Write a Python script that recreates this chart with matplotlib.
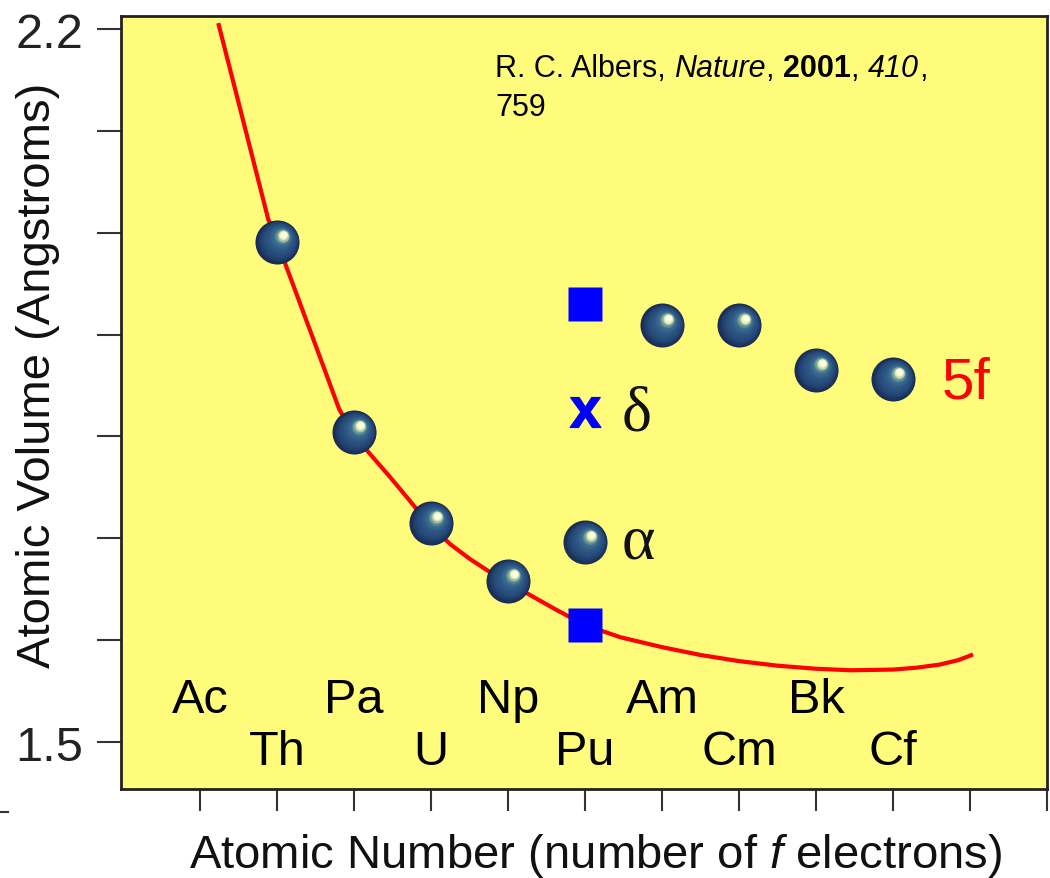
import numpy as np
import matplotlib
matplotlib.use("Agg")
import matplotlib.pyplot as plt
from matplotlib.colors import LinearSegmentedColormap
from matplotlib.transforms import offset_copy
from matplotlib.lines import Line2D

plt.rcParams['font.family'] = 'Liberation Sans'
plt.rcParams['mathtext.fontset'] = 'custom'
plt.rcParams['mathtext.rm'] = 'Liberation Sans'
plt.rcParams['mathtext.it'] = 'Liberation Sans:italic'
plt.rcParams['mathtext.bf'] = 'Liberation Sans:bold'

# element labels along the bottom (index = number of f electrons)
elements = ['Ac', 'Th', 'Pa', 'U', 'Np', 'Pu', 'Am', 'Cm', 'Bk', 'Cf']

# measured atomic volumes (spheres)
sphere_x = [1, 2, 3, 4, 5, 6, 7, 8, 9]
sphere_y = [1.991, 1.804, 1.715, 1.658, 1.696, 1.909, 1.909, 1.865, 1.856]

# Pu square markers and delta-phase x
square_x = [5, 5]
square_y = [1.930, 1.615]
delta_x = [5]
delta_y = [1.824]

# red 5f band curve
curve_x = [0.234, 0.519, 0.883, 1.013, 1.117, 1.455, 1.805, 1.974, 2.208,
           2.468, 2.727, 2.961, 3.247, 3.506, 3.766, 3.961, 4.286, 4.610,
           5.0, 5.455, 6.0, 6.5, 7.0, 7.5, 8.0, 8.45, 9.0, 9.3, 9.6, 9.85, 10.04]
curve_y = [2.2058, 2.1215, 2.0133, 1.9907, 1.967, 1.8984, 1.8268, 1.8042,
           1.7826, 1.760, 1.7365, 1.7149, 1.6943, 1.6796, 1.6668, 1.658,
           1.6443, 1.6305, 1.6148, 1.603, 1.5932, 1.5855, 1.5795, 1.5750,
           1.5720, 1.5705, 1.5712, 1.5730, 1.5760, 1.5805, 1.5860]

fig = plt.figure(figsize=(10.5, 8.79), dpi=100)
ax = fig.add_axes([0.1152, 0.1013, 0.9971 - 0.1152, 0.9807 - 0.1013])
ax.set_facecolor('#fffc7c')
ax.set_xlim(-1.03, 11.0)
ax.set_ylim(1.454, 2.2128)

ax.plot(curve_x, curve_y, color='#ff0000', lw=3.0, zorder=2,
        solid_capstyle='butt', solid_joinstyle='round')

# shaded spheres: stacked circles shifting toward the highlight
cmap = LinearSegmentedColormap.from_list('sph', [
    (0.0, '#182a52'), (0.25, '#244876'), (0.5, '#2d5784'),
    (0.7, '#3c6c8e'), (0.8, '#66969a'), (0.87, '#b4cca0'),
    (0.93, '#eef0bc'), (1.0, '#ffffe6')])
D = 31.7
n = 28
for k in range(n):
    t = k / (n - 1)
    ms = D * (1 - t) + 4.0 * t
    tr = offset_copy(ax.transData, fig=fig, x=6.5 * t, y=7.5 * t, units='dots')
    ax.plot(sphere_x, sphere_y, 'o', ms=ms, mfc=cmap(t), mec='none',
            transform=tr, zorder=4 + t)

ax.plot(square_x, square_y, 's', ms=24, mfc='#0000ff', mec='none', zorder=4)
ax.plot(delta_x, delta_y, ls='none', marker=r'$\mathbf{x}$', ms=22,
        mfc='#0000ff', mec='#0000ff', zorder=4)

ax.text(5.468, 1.807, 'δ', fontsize=46, family='Liberation Serif',
        color='#111111', va='baseline', ha='left')
ax.text(5.468, 1.6816, 'α', fontsize=46, family='Liberation Serif',
        color='#111111', va='baseline', ha='left')
ax.text(9.636, 1.8386, '5f', fontsize=42, color='#ff0000',
        va='baseline', ha='left')

for i, el in enumerate(elements):
    yy = 1.5294 if i % 2 == 0 else 1.4784
    ax.text(i, yy, el, fontsize=35, ha='center', va='baseline', color='#000000')

# citation, built from styled pieces
cite = [('R. C. Albers, ', 'normal', 'normal'), ('Nature', 'italic', 'normal'),
        (', ', 'normal', 'normal'), ('2001', 'normal', 'bold'),
        (', ', 'normal', 'normal'), ('410', 'italic', 'normal'),
        (',', 'normal', 'normal')]
prev = ax.text(0.404, 0.9224, cite[0][0], transform=ax.transAxes, fontsize=22,
               va='baseline', ha='left')
for s, st, wt in cite[1:]:
    prev = ax.annotate(s, xy=(1, 0), xycoords=prev, fontsize=22, style=st,
                       weight=wt, va='bottom', ha='left')
ax.text(0.404, 0.872, '759', transform=ax.transAxes, fontsize=22,
        va='baseline', ha='left')

ax.set_yticks(np.arange(1.5, 2.21, 0.1))
ax.set_yticklabels(['1.5', '', '', '', '', '', '', '2.2'])
ax.set_xticks(range(12))
ax.set_xticklabels([])
ax.tick_params(axis='y', length=17, width=1.5, color='#333333', pad=10,
               labelsize=35, labelcolor='#222222')
ax.tick_params(axis='x', length=16, width=1.5, color='#333333')
for s in ax.spines.values():
    s.set_color('#222222')
    s.set_linewidth(2)

fig.text(0.567, 0.026, r'Atomic Number (number of $\mathit{f}$ electrons)',
         fontsize=34, ha='center', va='center', color='#111111')
fig.text(0.036, 0.573, 'Atomic Volume (Angstroms)', fontsize=34,
         rotation=90, ha='center', va='center', color='#111111')
fig.add_artist(Line2D([0, 0.008], [0.0751, 0.0751], color='#333333', lw=1.5))

fig.savefig('out.png', dpi=100)
